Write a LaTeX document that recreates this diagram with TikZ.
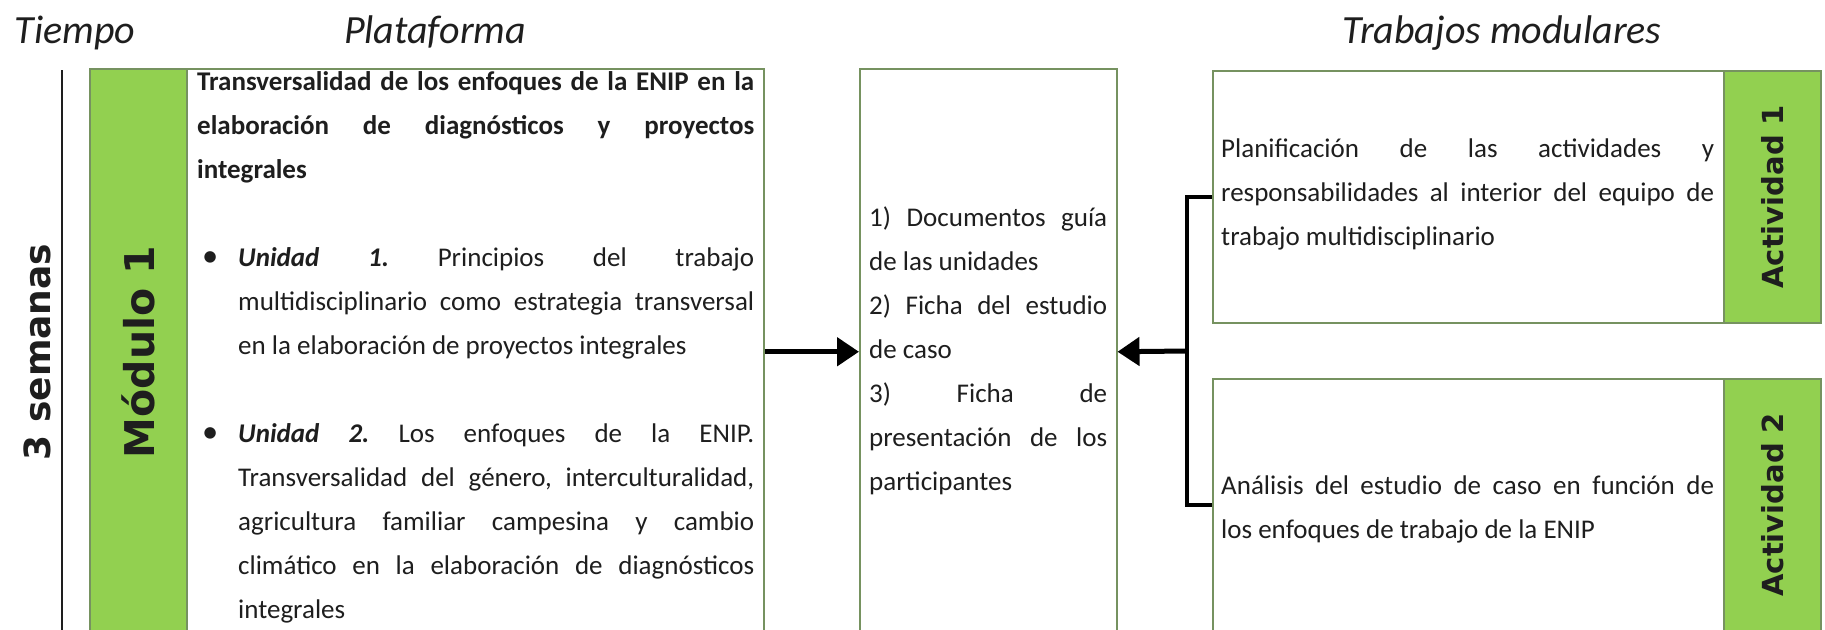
\documentclass[tikz,border=0pt]{standalone}
\usepackage{fontspec}
\setmainfont{Carlito}
\newfontfamily\labelfont{DejaVu Sans}
\usetikzlibrary{arrows.meta}
\setlength{\parindent}{0pt}
\frenchspacing

\definecolor{modgreen}{RGB}{146,208,80}
\definecolor{boxline}{RGB}{118,146,96}
\definecolor{ink}{RGB}{30,30,30}

\tikzset{
	box/.style={draw=boxline, line width=1.5pt, fill=white, inner sep=0pt, anchor=north west},
	greenbar/.style={box, fill=modgreen},
	coltitle/.style={font=\itshape\fontsize{40}{48}\selectfont, text=ink, anchor=base, inner sep=0pt},
	sidelabel/.style={font=\labelfont\bfseries\fontsize{#1}{#1}\selectfont, text=ink, rotate=90, inner sep=0pt},
	bodytext/.style={font=\fontsize{27}{44}\selectfont, text=ink, text width=#1, align=justify, anchor=north west, inner sep=0pt},
	conn/.style={line width=5pt, -{Triangle[length=22pt,width=28pt]}},
	bracket/.style={line width=4.5pt},
}
\newcommand{\unitbullet}{\hangindent=41pt\hangafter=1 \makebox[41pt][l]{\hspace{5pt}\scalebox{1.2}{\textbullet}}}

\begin{document}
\begin{tikzpicture}[x=1pt,y=-1pt]
	\useasboundingbox (0,0) rectangle (1825,629);
	\clip (0,0) rectangle (1825,629);
	% column titles
		\node[coltitle] (tiempo) at (75,43) {Tiempo};
		\node[coltitle] (plataforma) at (435,43) {Plataforma};
		\node[coltitle] (trabajos) at (1502,43) {Trabajos modulares};
	% time line
		\coordinate (tltop) at (62,70);
		\coordinate (tlbot) at (62,640);
		\draw[line width=1.5pt, ink] (tltop) -- (tlbot);
		\node[sidelabel=36pt] (semanas) at (37,352) {3 semanas};
	% module column
		\node[greenbar, minimum width=97pt, minimum height=566pt] (modulo) at (89,68) {};
		\node[box, minimum width=577pt, minimum height=566pt] (plat) at (186,68) {};
		\node[sidelabel=41pt] (modlabel) at (modulo.center) {Módulo 1};
	% documents
		\node[box, minimum width=257pt, minimum height=566pt] (docs) at (859,68) {};
	% activities
		\node[box, minimum width=511pt, minimum height=252pt] (tarea1) at (1212,70) {};
		\node[greenbar, minimum width=97pt, minimum height=252pt] (act1) at (1723,70) {};
		\node[box, minimum width=511pt, minimum height=252pt] (tarea2) at (1212,378) {};
		\node[greenbar, minimum width=97pt, minimum height=252pt] (act2) at (1723,378) {};
		\node[sidelabel=29pt] (act1label) at (act1.center) {Actividad 1};
		\node[sidelabel=29pt] (act2label) at (act2.center) {Actividad 2};
	% texts
		\node[bodytext=557pt] (plattext) at (197,59.2) {\strut\textbf{Transversalidad de los enfoques de la ENIP en la\linebreak elaboración de diagnósticos y proyectos\linebreak integrales}\par
			\mbox{}\par
			\unitbullet\textbf{\textit{Unidad 1.}} Principios del trabajo\linebreak multidisciplinario como estrategia transversal\linebreak en la elaboración de proyectos integrales\par
			\mbox{}\par
			\unitbullet\textbf{\textit{Unidad 2.}} Los enfoques de la ENIP.\linebreak Transversalidad del género, interculturalidad,\linebreak agricultura familiar campesina y cambio\linebreak climático en la elaboración de diagnósticos\linebreak integrales\par};
		\node[bodytext=238pt] (docstext) at (869,195.2) {\strut 1) Documentos guía\linebreak de las unidades\par 2) Ficha del estudio\linebreak de caso\par 3) Ficha de\linebreak presentación de los\linebreak participantes\par};
		\node[bodytext=493pt] (tarea1text) at (1221,126.2) {\strut Planificación de las actividades y\linebreak responsabilidades al interior del equipo de\linebreak trabajo multidisciplinario\par};
		\node[bodytext=493pt] (tarea2text) at (1221,463.2) {\strut Análisis del estudio de caso en función de\linebreak los enfoques de trabajo de la ENIP\par};
	% connectors
		\coordinate (brk) at (1187,351);
		\draw[conn] (plat.east) -- (docs.west);
		\draw[bracket] (tarea1.west) -| (brk) |- (tarea2.west);
		\draw[conn] (brk) -- (docs.east);
\end{tikzpicture}
\end{document}
